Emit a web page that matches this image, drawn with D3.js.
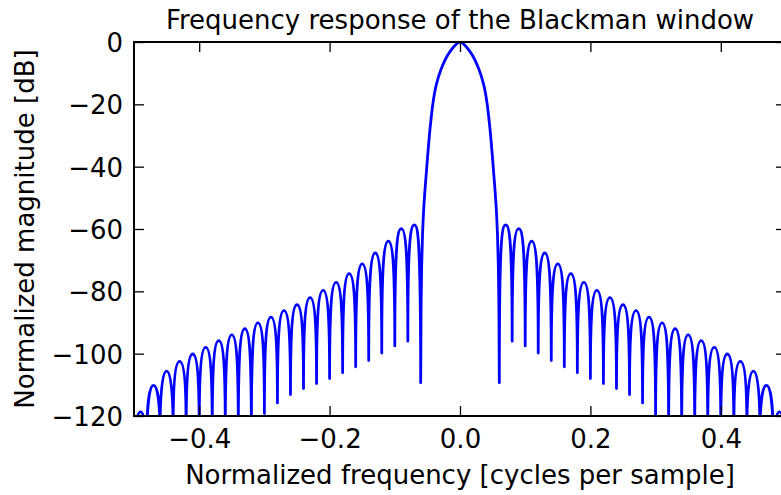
<!DOCTYPE html>
<html>
<head>
<meta charset="utf-8">
<script src="https://cdn.jsdelivr.net/npm/d3@7/dist/d3.min.js"></script>
<style>
  html, body { margin: 0; padding: 0; background: #fff; }
  svg { display: block; font-family: "DejaVu Sans", sans-serif; }
</style>
</head>
<body>
<div id="chart"></div>
<script>
// values (frequency in cycles/sample, magnitude in dB)

// side lobe nulls, left edge to right edge (values below -120 are clipped by the axes)
const nullFreq = [-0.50, -0.48, -0.46, -0.44, -0.42, -0.40, -0.38, -0.36, -0.34, -0.32,
                  -0.30, -0.28, -0.26, -0.24, -0.22, -0.20, -0.18, -0.16, -0.14, -0.12,
                  -0.10, -0.08, -0.0603,
                  0.0603, 0.08, 0.10, 0.12, 0.14, 0.16, 0.18, 0.20, 0.22, 0.24,
                  0.26, 0.28, 0.30, 0.32, 0.34, 0.36, 0.38, 0.40, 0.42, 0.44,
                  0.46, 0.48, 0.50];
const nullDb = [-125, -125, -125, -125, -125, -125, -125, -125, -125, -125,
                -119.2, -115.8, -113.1, -111.2, -109.6, -108.0, -106.1, -104.2, -102.2, -99.8,
                -97.5, -96.0, -109.3,
                -109.3, -96.0, -97.5, -99.8, -102.2, -104.2, -106.1, -108.0, -109.6, -111.2,
                -113.1, -115.8, -121, -125, -125, -125, -125, -125, -125, -125,
                -125, -125, -125];

// side lobe peaks
const peakFreq = [-0.49, -0.47, -0.45, -0.43, -0.41, -0.39, -0.37, -0.35, -0.33, -0.31, -0.29,
                  -0.27, -0.25, -0.23, -0.21, -0.19, -0.17, -0.15, -0.13, -0.11, -0.09, -0.07,
                  0.07, 0.09, 0.11, 0.13, 0.15, 0.17, 0.19, 0.21, 0.23, 0.25, 0.27,
                  0.29, 0.31, 0.33, 0.35, 0.37, 0.39, 0.41, 0.43, 0.45, 0.47, 0.49];
const peakDb = [-118.7, -110.2, -105.6, -102.5, -100.1, -98.0, -95.8, -94.0, -92.0, -90.1, -88.3,
                -86.2, -84.3, -82.0, -79.7, -77.1, -74.3, -71.2, -67.7, -63.9, -59.9, -58.7,
                -58.7, -59.9, -63.9, -67.7, -71.2, -74.3, -77.1, -79.7, -82.0, -84.3, -86.2,
                -88.3, -90.1, -92.0, -94.0, -95.8, -98.0, -100.1, -102.5, -105.6, -110.2, -118.7];

// main lobe, between the two first nulls
const mainFreq = [-0.0600, -0.0596, -0.0588, -0.0575, -0.0555, -0.0528, -0.0496, -0.0458,
                  -0.0414, -0.0368, -0.0292, -0.0164, 0,
                  0.0164, 0.0292, 0.0368, 0.0414, 0.0458, 0.0496, 0.0528,
                  0.0555, 0.0575, 0.0588, 0.0596, 0.0600];
const mainDb = [-97.8, -84.0, -72.0, -62.0, -53.0, -45.0, -36.5, -27.5,
                -19.5, -14.1, -8.8, -3.4, 0,
                -3.4, -8.8, -14.1, -19.5, -27.5, -36.5, -45.0,
                -53.0, -62.0, -72.0, -84.0, -97.8];

const xTickValues = [-0.4, -0.2, 0.0, 0.2, 0.4];
const xTickLabels = ["\u22120.4", "\u22120.2", "0.0", "0.2", "0.4"];
const yTickValues = [0, -20, -40, -60, -80, -100, -120];
const yTickLabels = ["0", "\u221220", "\u221240", "\u221260", "\u221280", "\u2212100", "\u2212120"];

const titleText = "Frequency response of the Blackman window";
const xLabelText = "Normalized frequency [cycles per sample]";
const yLabelText = "Normalized magnitude [dB]";

// layout
const W = 781, H = 495;
const margin = { top: 42, left: 134 };
const width = 652, height = 374;

const svg = d3.select("#chart").append("svg")
  .attr("width", W)
  .attr("height", H);

const g = svg.append("g")
  .attr("transform", `translate(${margin.left},${margin.top})`);

const x = d3.scaleLinear().domain([-0.5, 0.5]).range([0, width]);
const y = d3.scaleLinear().domain([-120, 0]).range([height, 0]);

g.append("clipPath").attr("id", "plotclip")
  .append("rect").attr("width", width).attr("height", height);

// build the curve: arched side lobes, then the main lobe, then the right side lobes
const p = d3.path();
function lobe(f0, d0, fp, dp, f1, d1) {
  p.bezierCurveTo(x(f0), y(dp - 8), x(f0 + 0.3 * (fp - f0)), y(dp), x(fp), y(dp));
  p.bezierCurveTo(x(f1 - 0.3 * (f1 - fp)), y(dp), x(f1), y(dp - 8), x(f1), y(d1));
}

p.moveTo(x(nullFreq[0]), y(nullDb[0]));
for (let i = 0; i < 22; i++) {
  lobe(nullFreq[i], nullDb[i], peakFreq[i], peakDb[i], nullFreq[i + 1], nullDb[i + 1]);
}

const mainPts = [[nullFreq[22], nullDb[22]]]
  .concat(mainFreq.map((f, i) => [f, mainDb[i]]))
  .concat([[nullFreq[23], nullDb[23]]]);
d3.line()
  .x(d => x(d[0]))
  .y(d => y(d[1]))
  .curve(d3.curveCatmullRom.alpha(0.5))
  .context(p)(mainPts);

for (let i = 0; i < 22; i++) {
  lobe(nullFreq[23 + i], nullDb[23 + i], peakFreq[22 + i], peakDb[22 + i], nullFreq[24 + i], nullDb[24 + i]);
}

g.append("path")
  .attr("clip-path", "url(#plotclip)")
  .attr("d", p.toString())
  .attr("fill", "none")
  .attr("stroke", "#0000ff")
  .attr("stroke-width", 2.8)
  .attr("stroke-linejoin", "round")
  .attr("stroke-linecap", "round");

// axes, ticks pointing inward on all four sides
const fontSize = 26;

const xAxis = g.append("g")
  .attr("transform", `translate(0,${height})`)
  .call(d3.axisBottom(x)
    .tickValues(xTickValues)
    .tickFormat((d, i) => xTickLabels[i])
    .tickSize(-10)
    .tickPadding(14));

const yAxis = g.append("g")
  .call(d3.axisLeft(y)
    .tickValues(yTickValues)
    .tickFormat((d, i) => yTickLabels[i])
    .tickSize(-10)
    .tickPadding(11));

g.append("g")
  .call(d3.axisTop(x).tickValues(xTickValues).tickFormat("").tickSize(-10));

g.append("g")
  .attr("transform", `translate(${width},0)`)
  .call(d3.axisRight(y).tickValues(yTickValues).tickFormat("").tickSize(-10));

g.selectAll(".domain").remove();
g.selectAll(".tick line").attr("stroke", "#000").attr("stroke-width", 1.3);
g.selectAll(".tick text")
  .attr("fill", "#000")
  .style("font-size", fontSize + "px")
  .style("font-family", "DejaVu Sans");
yAxis.selectAll(".tick text").attr("dy", "0.36em");

// axes frame
g.append("rect")
  .attr("width", width)
  .attr("height", height)
  .attr("fill", "none")
  .attr("stroke", "#000")
  .attr("stroke-width", 2);

// title and axis labels
svg.append("text")
  .attr("x", margin.left + width / 2)
  .attr("y", 29)
  .attr("text-anchor", "middle")
  .style("font-size", "26px")
  .text(titleText);

svg.append("text")
  .attr("x", margin.left + width / 2)
  .attr("y", 484)
  .attr("text-anchor", "middle")
  .style("font-size", fontSize + "px")
  .text(xLabelText);

svg.append("text")
  .attr("transform", `translate(34,${margin.top + height / 2}) rotate(-90)`)
  .attr("text-anchor", "middle")
  .style("font-size", fontSize + "px")
  .text(yLabelText);
</script>
</body>
</html>
